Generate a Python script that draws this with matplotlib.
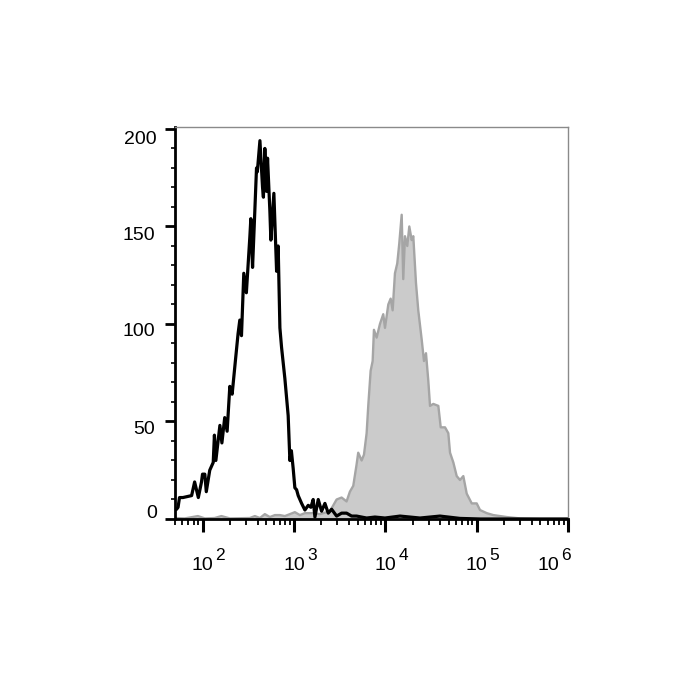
import matplotlib
matplotlib.use("Agg")
import matplotlib.pyplot as plt
from matplotlib.ticker import FixedLocator, MultipleLocator, NullFormatter
from matplotlib.transforms import blended_transform_factory, offset_copy

plt.rcParams['font.family'] = ['Liberation Sans', 'DejaVu Sans']

# controle (linha preta, sem preenchimento)
ctrl_fl = [50, 52, 54, 56, 61, 76, 82, 90, 97.5, 100, 106, 110, 120, 131, 135, 140,
           155, 163, 175, 186, 199, 211, 230, 245, 256, 267, 283, 302, 330, 338, 353,
           368, 390, 398, 425, 454, 464, 481, 502, 515, 546, 560, 604, 647, 673, 703,
           733, 797, 866, 904, 939, 982, 1025, 1071, 1115, 1164, 1215, 1320, 1435,
           1535, 1627, 1699, 1847, 2010, 2186, 2377, 2588, 2936, 3329, 3775, 4285,
           4858, 6255, 7710, 9930, 14500, 24000, 39700, 65800, 110000, 1000000]
ctrl_count = [4.6, 5, 6, 11, 11, 12, 19, 11, 19, 23, 23, 14, 25, 29, 43, 30,
              48, 39, 52, 45, 68, 64, 82, 95, 102, 94, 126, 116, 145, 154, 129,
              150, 180, 178, 194, 170, 165, 190, 168, 185, 158, 143, 167, 127, 140, 98,
              88, 72, 53, 30, 35, 26, 16, 15, 12, 10, 8, 4.6, 7,
              6, 10, 1, 10, 4, 8, 3, 5, 1.5, 3, 3, 1.5,
              1.5, 0.5, 1, 0.5, 1.5, 0.5, 1.5, 0.3, 0, 0]

# amostra marcada (cinza, preenchida)
amostra_fl = [50, 64, 89, 106, 136, 161, 199, 330, 374, 425, 481, 546, 620, 703, 797,
              904, 1025, 1164, 1320, 1615, 1928, 2483, 2936, 3329, 3775, 4102, 4466,
              4858, 5060, 5517, 5850, 6255, 6516, 6920, 7280, 7520, 8050, 8750, 9510,
              9930, 10800, 11460, 12050, 12770, 13530, 14220, 15130, 15740, 16440,
              17420, 18330, 19460, 20270, 21690, 22980, 25050, 26540, 27910, 29580,
              30890, 33580, 38100, 40470, 45100, 49000, 51150, 55600, 60540, 65800,
              71500, 77900, 88400, 100200, 108900, 129000, 152500, 213800, 298700,
              494000, 1000000]
amostra_count = [0.5, 0.3, 1.5, 0.3, 0.5, 1.5, 0.3, 0.5, 1.5, 0.5, 2.5, 1, 2, 2, 1.5,
                 2.5, 3.5, 2, 3, 3, 2.5, 4, 10, 11, 9, 14, 17,
                 28, 34, 30, 33, 44, 58, 76, 81, 97, 93, 100, 105,
                 98, 110, 113, 107, 126, 131, 141, 156, 123, 145,
                 140, 150, 143, 145, 121, 107, 92, 81, 85, 71,
                 58, 59, 58, 47, 47, 44, 34, 29, 22, 20,
                 22, 13, 8, 8, 4.6, 3, 2, 1, 0.3,
                 0, 0]

y_ticks = [0, 50, 100, 150, 200]
x_decadas = [2, 3, 4, 5, 6]

fig = plt.figure(figsize=(7, 7), dpi=100)
ax = fig.add_axes([175 / 700, 181 / 700, 393 / 700, 392 / 700])

ax.fill_between(amostra_fl, amostra_count, 0, color='#cbcbcb', linewidth=0)
ax.plot(amostra_fl, amostra_count, color='#a5a5a5', lw=1.7)
ax.plot(ctrl_fl, ctrl_count, color='black', lw=2.3)

ax.set_xscale('log')
ax.set_xlim(50, 1e6)
ax.set_ylim(0, 201)

# eixos: esquerda/baixo pretos, topo/direita cinza
for lado in ['left', 'bottom']:
    ax.spines[lado].set_linewidth(2)
    ax.spines[lado].set_color('black')
for lado in ['top', 'right']:
    ax.spines[lado].set_linewidth(1)
    ax.spines[lado].set_color('#8a8a8a')

ax.xaxis.set_major_locator(FixedLocator([10 ** d for d in x_decadas]))
menores = [m * 10 ** d for d in range(1, 6) for m in range(2, 10)]
ax.xaxis.set_minor_locator(FixedLocator([v for v in menores if v >= 50]))
ax.xaxis.set_major_formatter(NullFormatter())
ax.xaxis.set_minor_formatter(NullFormatter())
ax.yaxis.set_major_locator(FixedLocator(y_ticks))
ax.yaxis.set_minor_locator(MultipleLocator(10))
ax.yaxis.set_major_formatter(NullFormatter())

ax.tick_params(axis='x', which='major', direction='out', length=9, width=2.2)
ax.tick_params(axis='x', which='minor', direction='out', length=4.5, width=1.3)
ax.tick_params(axis='y', which='major', direction='out', length=7, width=2)
ax.tick_params(axis='y', which='minor', direction='out', length=3, width=1.2)

# rotulos do eixo y (desalinhados como no original)
trans_y = blended_transform_factory(ax.transAxes, ax.transData)
desloc_y = {0: (-18, 5), 50: (-20, -8), 100: (-20, -8), 150: (-20, -9), 200: (-18, -11)}
for v in y_ticks:
    dx, dy = desloc_y[v]
    t = offset_copy(trans_y, fig=fig, x=dx, y=dy, units='dots')
    ax.text(0, v, str(v), transform=t, ha='right', va='center', fontsize=14)

# rotulos do eixo x: 10 com expoente
trans_x = blended_transform_factory(ax.transData, ax.transAxes)
for d in x_decadas:
    dx = -20 if d == 6 else 0
    t_base = offset_copy(trans_x, fig=fig, x=dx, y=-47, units='dots')
    ax.text(10 ** d, 0, '10', transform=t_base, ha='center', va='center', fontsize=14)
    t_exp = offset_copy(trans_x, fig=fig, x=dx + 13, y=-37, units='dots')
    ax.text(10 ** d, 0, str(d), transform=t_exp, ha='left', va='center', fontsize=12.5)

fig.savefig('out.png', dpi=100)
